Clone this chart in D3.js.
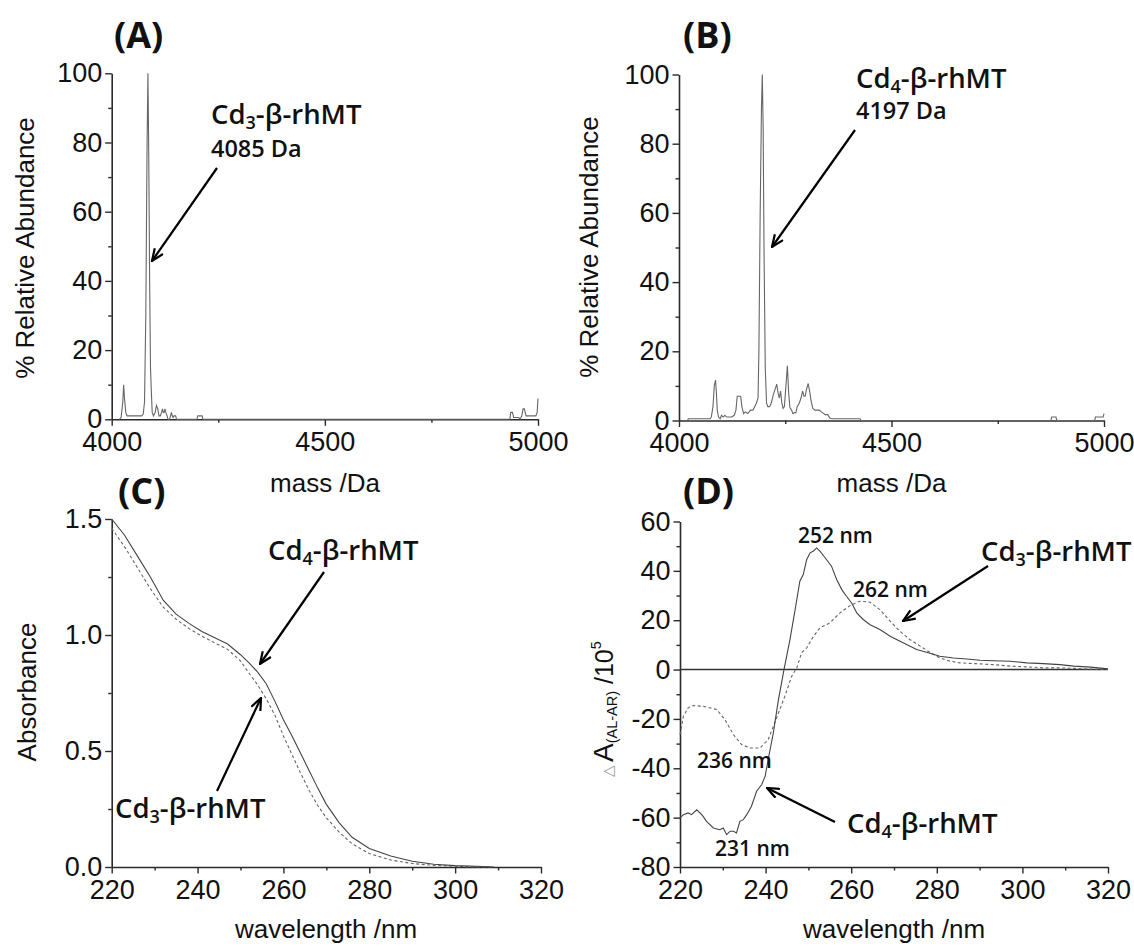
<!DOCTYPE html>
<html><head><meta charset="utf-8">
<script src="https://cdn.jsdelivr.net/npm/d3@7"></script>
<style>body{margin:0;background:#fff} svg{display:block}</style>
</head><body>
<svg id="c" width="1134" height="946"></svg>
<script>
// ---------------- DATA ----------------
// Panel A: Cd3-beta-rhMT mass spectrum
const massA  = [4018,4022,4026,4028,4030,4033,4036,4040,4050,4060,4070,4074,4077,4080,4083,4085,4087,4089,4091,4093,4095,4098,4102,4105,4108,4111,4114,4117,4119,4121,4123,4125,4127,4130,4132,4136,4138,4140,4142,4144,4146,4150,4152,4200,4202,4212,4214,4934,4936,4940,4943,4955,4958,4962,4965,4968,4972,4990,4995,4998,5000];
const abundA = [0,0.5,5,10,6,2,1,1,1,1,1,1.5,5,30,80,100,75,40,15,8,2,1,2,4,3,1,1,2,3,2,2,3,2,1,0,0,1,2,1,0.5,1,1,0,0,1,1,0,0,2,2,0.5,0.5,0,1,3,3,1,1,1,2,6];
// Panel B: Cd4-beta-rhMT mass spectrum
const massB  = [4020,4022,4073,4076,4080,4083,4086,4088,4090,4093,4097,4100,4104,4108,4112,4118,4124,4130,4134,4137,4141,4145,4148,4152,4156,4162,4168,4174,4178,4182,4186,4188,4191,4194,4196,4198,4200,4203,4206,4209,4213,4217,4222,4226,4230,4233,4236,4239,4242,4245,4248,4251,4255,4258,4261,4265,4268,4272,4275,4278,4283,4287,4291,4294,4297,4300,4304,4308,4311,4315,4320,4330,4335,4344,4350,4355,4360,4426,4428,4875,4877,4887,4889,4978,4980,4998,5000];
const abundB = [0,0.5,0.5,1,4,10,11.7,8,3,1,0.5,1.5,1,1.5,1,1,1,1.5,3,7,7,7,4,2,2.5,2,3,3,4,5,6.5,20,60,90,100,85,50,15,5,4,4,5,7.5,9,10.5,8,6.5,8.5,5,3.5,4,9,15.8,8,3.7,3,2,2.3,2.2,4,5,6.5,8.5,7,7,9,10.7,8,5.5,3.5,3,3,2.5,1.7,1.7,0.7,0.5,0.5,0,0,1,1,0,0,1,1,2];
// Panel C: UV absorption
const wlC      = [220,223,226,229,232,235,238,241,244,247,250,252,254,256,258,260,262,264,266,268,270,273,276,280,285,290,295,300,305,309];
const absCd4C  = [1.50,1.43,1.34,1.25,1.15,1.09,1.05,1.015,0.988,0.961,0.915,0.88,0.84,0.79,0.715,0.635,0.565,0.49,0.415,0.34,0.27,0.19,0.128,0.08,0.047,0.025,0.012,0.006,0.003,0.0];
const absCd3C  = [1.46,1.38,1.29,1.20,1.12,1.068,1.028,0.995,0.966,0.938,0.888,0.835,0.785,0.725,0.655,0.565,0.485,0.405,0.33,0.265,0.212,0.15,0.10,0.058,0.03,0.015,0.007,0.003,0.0,0.0];
// Panel D: MCD/CD difference spectra
const wlD4 = [220,220.8,221.9,222.7,223.9,225.1,226.2,227.8,229.3,230.1,230.9,231.7,232.5,233.2,234,234.8,235.6,236.7,237.9,239.1,239.9,240.6,241.8,243,244.3,245.7,246.9,248,248.8,249.6,250.4,251.2,251.9,252.7,253.9,255.4,256.6,257.8,258.9,260.1,261.3,262.8,264.4,266.7,269.1,271.4,275.3,277.6,280.7,283.9,287,290.1,293.2,297.1,301,304.9,308.8,312,316,320];
const dCd4 = [-60.1,-58.8,-58.1,-58.8,-56.8,-58.8,-61.5,-64.2,-64.9,-64.2,-66.9,-65.5,-65.5,-66.2,-61.5,-60.8,-58.8,-55.4,-49.3,-46.6,-43.2,-36.5,-25.7,-12.2,0,12.2,24.3,35.8,38.5,44.6,47.3,48,49.3,48,45.3,41.9,36.5,32.4,29.7,27,23,20.3,18.2,16.2,13.5,11.5,8.1,7,5.4,4.7,4.3,3.8,3.6,3.4,2.7,2.4,2.0,1.4,1.0,0.3];
const wlD3 = [220,220.8,221.9,223.1,225.5,228.6,230.5,232.5,234.4,236.4,238.7,240.6,241.8,243,244.5,246.1,247.3,248.4,249.6,251.2,252.7,255,257.4,259.7,262,264.4,266.7,269.1,271.4,273.7,276.1,278.4,280.7,283.1,285.4,290.1,293.2,297.1,301,304.9,308.8,314,320];
const dCd3 = [-26.4,-18.9,-15.5,-14.6,-14.9,-16.2,-20.3,-26.4,-30.4,-31.8,-31.8,-28.4,-23,-17.6,-10.8,-2.7,0.7,6.8,8.8,13.5,16.9,18.9,23,25.9,27.7,27.3,24.3,19.6,15.5,12.2,9.5,7,4.7,3.4,2.7,2.3,2.0,1.4,1.1,0.7,0.7,0.3,0];
// Tick values
const massTicks = [4000,4500,5000], massMinor = [4250,4750];
const abTicks = [0,20,40,60,80,100], abMinor = [10,30,50,70,90];
const wlTicks = [220,240,260,280,300,320], wlMinor = [230,250,270,290,310];
const absTicks = [0,0.5,1.0,1.5], absMinor = [0.25,0.75,1.25];
const dTicks = [-80,-60,-40,-20,0,20,40,60], dMinor = [-70,-50,-30,-10,10,30,50];

// ---------------- DRAW ----------------
const svg = d3.select("#c");
const SANS = "'Liberation Sans', Arial, sans-serif";
const ANN = "'Open Sans', 'Noto Sans', sans-serif";
const AX = "#2a2a2a";

const defs = svg.append("defs");
defs.append("marker").attr("id","arr").attr("viewBox","0 0 14 12")
  .attr("refX",13).attr("refY",6).attr("markerWidth",14).attr("markerHeight",12)
  .attr("markerUnits","userSpaceOnUse").attr("orient","auto")
  .append("path").attr("d","M1,1 L13,6 L1,11").attr("fill","none").attr("stroke","#000").attr("stroke-width",2.2);

function panel(o){
  const x = d3.scaleLinear().domain(o.xd).range([o.l,o.r]);
  const y = d3.scaleLinear().domain(o.yd).range([o.b,o.t]);
  const g = svg.append("g");
  const fmtX = o.fx || (d=>String(d)), fmtY = o.fy || (d=>String(d));
  g.append("g").attr("transform",`translate(0,${o.b})`)
     .call(d3.axisBottom(x).tickValues(o.xt).tickSize(6.5).tickPadding(6).tickSizeOuter(0).tickFormat(fmtX));
  g.append("g").attr("transform",`translate(0,${o.b})`)
     .call(d3.axisBottom(x).tickValues(o.xm).tickSize(3.5).tickFormat("")).select(".domain").remove();
  g.append("g").attr("transform",`translate(${o.l},0)`)
     .call(d3.axisLeft(y).tickValues(o.yt).tickSize(6.5).tickPadding(3).tickSizeOuter(0).tickFormat(fmtY));
  g.append("g").attr("transform",`translate(${o.l},0)`)
     .call(d3.axisLeft(y).tickValues(o.ym).tickSize(3.5).tickFormat("")).select(".domain").remove();
  g.selectAll(".domain").attr("stroke",AX).attr("stroke-width",1.6);
  g.selectAll(".tick line").attr("stroke",AX).attr("stroke-width",1.4);
  g.selectAll(".tick text").attr("font-family",SANS).attr("font-size","27px").attr("fill","#111");
  return {x,y,g};
}

function series(p, xs, ys, dash, color){
  const pts = xs.map((d,i)=>[d,ys[i]]);
  p.g.append("path").datum(pts)
    .attr("d", d3.line().x(d=>p.x(d[0])).y(d=>p.y(d[1])))
    .attr("fill","none").attr("stroke",color||"#555").attr("stroke-width",1.1)
    .attr("stroke-dasharray", dash ? "3,2.5" : null);
}

function title(x,y,txt,rot){
  const t = svg.append("text").attr("font-family",SANS).attr("font-size","26px").attr("fill","#111")
    .attr("text-anchor","middle").text(txt);
  if(rot) t.attr("transform",`translate(${x},${y}) rotate(-90)`); else t.attr("x",x).attr("y",y);
}
function plabel(x,y,txt){
  svg.append("text").attr("x",x).attr("y",y).attr("font-family",ANN).attr("font-weight",700)
    .attr("font-size","36px").attr("fill","#111").text(txt);
}
function cdlabel(x,y,n){
  const t = svg.append("text").attr("x",x).attr("y",y).attr("font-family",ANN).attr("font-weight",600)
    .attr("font-size","27.5px").attr("fill","#111");
  t.append("tspan").text("Cd");
  t.append("tspan").attr("font-size","18px").attr("dy",5).text(n);
  t.append("tspan").attr("dy",-5).text("-β-rhMT");
}
function note(x,y,txt,size){
  svg.append("text").attr("x",x).attr("y",y).attr("font-family",ANN).attr("font-weight",600)
    .attr("font-size",(size||21)+"px").attr("fill","#111").text(txt);
}
function arrow(x1,y1,x2,y2){
  svg.append("line").attr("x1",x1).attr("y1",y1).attr("x2",x2).attr("y2",y2)
    .attr("stroke","#000").attr("stroke-width",2.2).attr("marker-end","url(#arr)");
}

// Panel A
const pA = panel({xd:[4000,5000], yd:[0,100], l:111.7, r:538, t:73.3, b:419.3,
  xt:massTicks, xm:massMinor, yt:abTicks, ym:abMinor});
series(pA, massA, abundA, false, "#666");
// Panel B
const pB = panel({xd:[4000,5000], yd:[0,100], l:679, r:1104, t:74.5, b:420.5,
  xt:massTicks, xm:massMinor, yt:abTicks, ym:abMinor});
series(pB, massB, abundB, false, "#666");
// Panel C
const pC = panel({xd:[220,320], yd:[0,1.5], l:111.7, r:541, t:519, b:867,
  xt:wlTicks, xm:wlMinor, yt:absTicks, ym:absMinor, fy:d3.format(".1f")});
series(pC, wlC, absCd3C, true, "#666");
series(pC, wlC, absCd4C, false, "#444");
// Panel D
const pD = panel({xd:[220,320], yd:[-80,60], l:680, r:1108, t:521.5, b:867,
  xt:wlTicks, xm:wlMinor, yt:dTicks, ym:dMinor});
pD.g.append("line").attr("x1",pD.x(220)).attr("x2",pD.x(320)).attr("y1",pD.y(0)).attr("y2",pD.y(0))
  .attr("stroke","#333").attr("stroke-width",1.6);
series(pD, wlD3, dCd3, true, "#666");
series(pD, wlD4, dCd4, false, "#444");

// Axis titles
title(34,248,"% Relative Abundance",true);
title(598,247,"% Relative Abundance",true);
title(325,492,"mass /Da");
title(891.5,492,"mass /Da");
title(36,692,"Absorbance",true);
title(326,938,"wavelength /nm");
title(894,938,"wavelength /nm");
// D y title
{
  const t = svg.append("text").attr("transform","translate(613,777) rotate(-90)")
    .attr("font-family",SANS).attr("fill","#111").attr("font-size","28px");
  t.append("tspan").attr("font-size","15px").attr("fill","#999").text("△");
  t.append("tspan").attr("dx",3).text("A");
  t.append("tspan").attr("font-size","14.5px").attr("dy",4).text("(AL-AR)");
  t.append("tspan").attr("dy",-4).attr("font-size","25px").text(" /10");
  t.append("tspan").attr("font-size","14.5px").attr("dy",-12).text("5");
}

// Panel labels
plabel(114,48,"(A)"); plabel(683,48,"(B)"); plabel(118,504,"(C)"); plabel(683,504,"(D)");

// Annotations
cdlabel(211,124,"3"); note(211,157,"4085 Da",23.5); arrow(217,168,152,261);
cdlabel(856,88,"4"); note(856,119,"4197 Da",23.5); arrow(855,130,772,247);
cdlabel(268,560,"4"); arrow(324,572,260,664);
cdlabel(115,818,"3"); arrow(217,791,261,698);
cdlabel(981,561,"3"); arrow(988,566,903,621);
cdlabel(847,833,"4"); arrow(835,822,767,788);
note(798,543,"252 nm"); note(853,597,"262 nm"); note(697,768,"236 nm"); note(715,856,"231 nm");
</script>
</body></html>
